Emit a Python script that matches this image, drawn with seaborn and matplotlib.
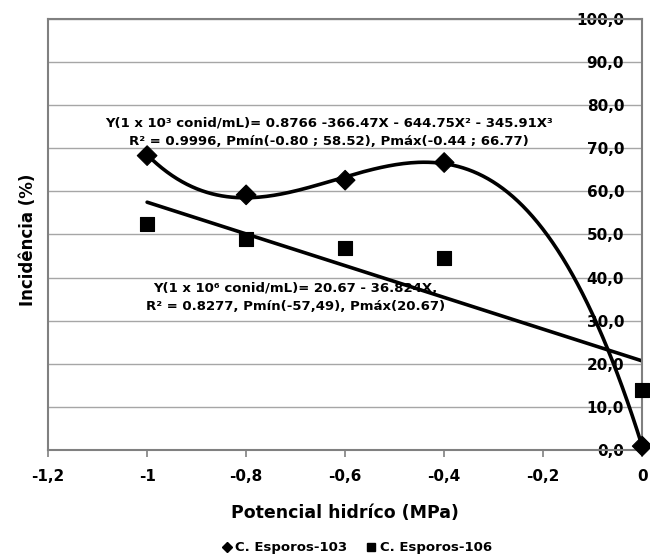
# Incidência x potencial hídrico, duas concentrações de esporos
import numpy as np
import pandas as pd
import seaborn as sns
import matplotlib.pyplot as plt

# dados
potencial = [-1.0, -0.8, -0.6, -0.4, 0.0]
incid_103 = [68.3, 59.2, 62.6, 66.7, 0.9]
incid_106 = [52.5, 49.0, 46.8, 44.5, 14.0]
series = ["C. Esporos-103", "C. Esporos-106"]

# coeficientes das linhas de tendência (do texto do gráfico), grau mais alto primeiro
coef_103 = [-345.91, -644.75, -366.47, 0.8766]
coef_106 = [-36.824, 20.67]

y_ticks = [0, 10, 20, 30, 40, 50, 60, 70, 80, 90, 100]
x_ticks = [-1.2, -1.0, -0.8, -0.6, -0.4, -0.2, 0.0]
x_labels = ["-1,2", "-1", "-0,8", "-0,6", "-0,4", "-0,2", "0"]

sns.set_style("white")
plt.rcParams["font.family"] = ["DejaVu Sans"]
plt.rcParams["font.weight"] = "bold"
plt.rcParams["text.color"] = "black"
plt.rcParams["xtick.color"] = "black"
plt.rcParams["ytick.color"] = "black"
plt.rcParams["axes.labelcolor"] = "black"

df = pd.DataFrame({
    "x": potencial * 2,
    "y": incid_103 + incid_106,
    "serie": [series[0]] * 5 + [series[1]] * 5,
})

xs = np.linspace(-1.0, 0.0, 200)
trend = pd.DataFrame({
    "x": np.concatenate([xs, xs]),
    "y": np.concatenate([np.polyval(coef_103, xs), np.polyval(coef_106, xs)]),
    "serie": [series[0]] * len(xs) + [series[1]] * len(xs),
})

fig = plt.figure(figsize=(6.5, 5.58), dpi=100)
ax = fig.add_axes([0.074, 0.1935, 0.914, 0.7725])

ax.grid(axis="y", color="#a6a6a6", linewidth=1.0)
ax.set_axisbelow(True)

sns.lineplot(data=trend, x="x", y="y", units="serie", estimator=None,
             color="black", linewidth=2.6, legend=False, ax=ax, sort=False)
sns.scatterplot(data=df, x="x", y="y", style="serie",
                markers={series[0]: "D", series[1]: "s"},
                s=100, color="black", edgecolor="black",
                clip_on=False, zorder=5, ax=ax, legend=False)

ax.set_xlim(-1.2, 0.0)
ax.set_ylim(0, 100)

# eixo y desenhado em x = 0 (à direita), rótulos dentro da área
ax.spines["left"].set_position(("axes", 1.0))
ax.spines["right"].set_position(("axes", 0.0))
for sp in ax.spines.values():
    sp.set_color("#808080")
    sp.set_linewidth(1.5)
    sp.set_visible(True)

ax.set_yticks(y_ticks)
ax.set_yticklabels([f"{v:.1f}".replace(".", ",") for v in y_ticks],
                   fontsize=11, fontweight="bold")
ax.tick_params(axis="y", length=4, width=1.2, color="#808080", pad=9)
ax.set_xticks(x_ticks)
ax.set_xticklabels(x_labels, fontsize=11, fontweight="bold")
ax.tick_params(axis="x", length=5, width=1.2, color="#808080", pad=9,
               direction="out", bottom=True)

ax.set_xlabel("Potencial hidríco (MPa)", fontsize=12.5, fontweight="bold", labelpad=14)
ax.set_ylabel("")
fig.text(0.043, 0.57, "Incidência (%)", rotation=90, ha="center", va="center",
         fontsize=12, fontweight="bold")

ax.text(-0.632, 73.7, "Y(1 x 10³ conid/mL)= 0.8766 -366.47X - 644.75X² - 345.91X³\n"
        "R² = 0.9996, Pmín(-0.80 ; 58.52), Pmáx(-0.44 ; 66.77)",
        ha="center", va="center", fontsize=9.5, fontweight="bold",
        linespacing=1.5)
ax.text(-0.70, 35.4, "Y(1 x 10⁶ conid/mL)= 20.67 - 36.824X,\n"
        "R² = 0.8277, Pmín(-57,49), Pmáx(20.67)",
        ha="center", va="center", fontsize=9.5, fontweight="bold",
        linespacing=1.5)

handles = [plt.Line2D([], [], marker=m, color="black", linestyle="none",
                      markersize=ms) for m, ms in (("D", 5), ("s", 6))]
ax.legend(handles, series, loc="center", bbox_to_anchor=(0.517, -0.227),
          ncol=2, frameon=False, fontsize=9.5, handletextpad=0.05,
          handlelength=1.2, columnspacing=1.2, borderaxespad=0)

fig.savefig("out.png", dpi=100)
